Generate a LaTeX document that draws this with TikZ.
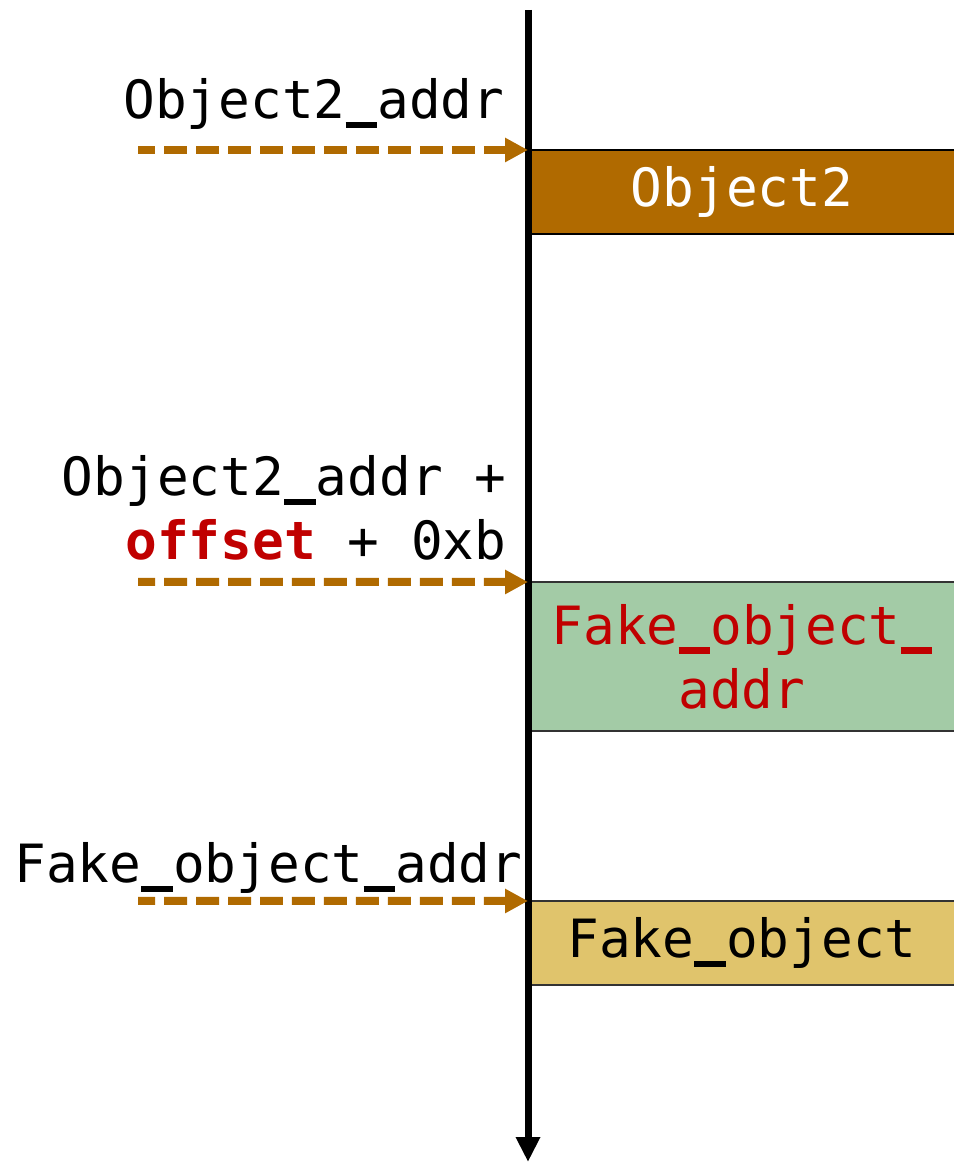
\documentclass[tikz,border=0pt]{standalone}
\usepackage{fontspec}
\setmonofont{DejaVu Sans Mono}
\usetikzlibrary{arrows.meta, positioning}
\definecolor{ptrbrown}{HTML}{B06A00}
\definecolor{memgreen}{HTML}{A3CBA6}
\definecolor{memyellow}{HTML}{E0C46C}
\definecolor{hlred}{HTML}{C00000}
\definecolor{edgegray}{HTML}{333333}
% heavy underscore, one character wide
\newcommand{\uscore}{\rule[-0.18em]{0.602em}{0.12em}}

\begin{document}
\begin{tikzpicture}[
    >=Stealth,
    font=\ttfamily\fontsize{15}{18.2}\selectfont,
    membox/.style={draw=edgegray, line width=0.02cm, minimum width=4.28cm,
                   anchor=west, outer sep=0pt, inner sep=0pt, align=center},
    ptr/.style={-{Triangle[length=0.23cm, width=0.23cm]}, ptrbrown, line width=0.08cm,
                dash pattern=on 0.23cm off 0.09cm, dash phase=0.06cm},
    addrlabel/.style={inner sep=0pt, align=right},
  ]
  \clip (0,0) rectangle (9.54,11.63);

  % memory blocks
  \node[membox, draw=black, fill=ptrbrown, text=white, minimum height=0.84cm] (obj2) at (5.28,9.71) {Object2};
  \node[membox, fill=memgreen, text=hlred, minimum height=1.49cm] (fakeaddr) at (5.28,5.065) {Fake\uscore object\uscore\\addr};
  \node[membox, fill=memyellow, minimum height=0.84cm] (fakeobj) at (5.28,2.20) {Fake\uscore object};

  % address axis
  \coordinate (top) at (5.28,11.53);
  \coordinate (bottom) at (5.28,0.01);
  \draw[-{Triangle[length=0.25cm, width=0.23cm]}, line width=0.07cm] (top) -- (bottom);

  % pointers
  \node[addrlabel, anchor=base east] (lobj2) at (5.05,10.44) {Object2\uscore addr};
  \node[addrlabel, anchor=south east] (lfakeaddr) at (5.07,6.02) {Object2\uscore addr +\\\textcolor{hlred}{\bfseries offset} + 0xb};
  \node[addrlabel, anchor=base east] (lfakeobj) at (5.23,2.80) {Fake\uscore object\uscore addr};

  \coordinate (s1) at (1.38,10.13);
  \coordinate (s2) at (1.38,5.81);
  \coordinate (s3) at (1.38,2.62);
  \draw[ptr] (s1) -- (obj2.north west);
  \draw[ptr] (s2) -- (fakeaddr.north west);
  \draw[ptr] (s3) -- (fakeobj.north west);
\end{tikzpicture}
\end{document}
